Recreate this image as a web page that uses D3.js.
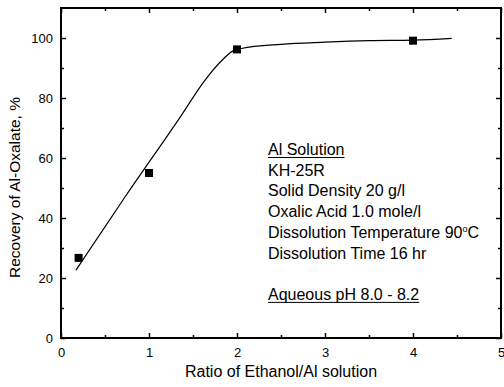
<!DOCTYPE html>
<html>
<head>
<meta charset="utf-8">
<script src="https://cdn.jsdelivr.net/npm/d3@7"></script>
<style>
    body { margin: 0; background: #fff; }
    svg text { font-family: "Liberation Sans", Arial, sans-serif; fill: #000; }
</style>
</head>
<body>
<div id="graph"></div>
<script>
!(function(){
    "use strict"

    var width = 504;
    var height = 387;

    // measured points
    var ratio = [0.2, 1, 2, 4];
    var recovery = [26.7, 55, 96.2, 99.1];

    // hand drawn trend line
    var fitRatio = [0.17, 0.75, 1.37, 1.62, 1.81, 1.96, 2.05, 2.5, 3.0, 3.5, 4.0, 4.44];
    var fitRecovery = [22.6, 48, 74.3, 85.3, 92.0, 95.8, 96.5, 97.9, 98.6, 99.1, 99.3, 99.9];

    var xTicks = [0, 1, 2, 3, 4, 5];
    var xMinor = [0.5, 1.5, 2.5, 3.5, 4.5];
    var yTicks = [0, 20, 40, 60, 80, 100];
    var yMinor = [10, 30, 50, 70, 90];

    var notes = [
        {text: "Al Solution", underline: true},
        {text: "KH-25R"},
        {text: "Solid Density 20 g/l"},
        {text: "Oxalic Acid 1.0 mole/l"},
        {text: "Dissolution Temperature 90", sup: "o", tail: "C"},
        {text: "Dissolution Time 16 hr"},
        {text: ""},
        {text: "Aqueous pH 8.0 - 8.2", underline: true}
    ];

    var plot = {left: 61, right: 501, top: 8, bottom: 338};

    var x = d3.scaleLinear().domain([0, 5]).range([plot.left, plot.right]);
    var y = d3.scaleLinear().domain([0, 110]).range([plot.bottom, plot.top]);

    var svg = d3.select('#graph')
        .append('svg')
        .attr("width", width)
        .attr("height", height);

    svg.append("rect")
        .attr("width", width).attr("height", height)
        .attr("fill", "#fff");

    function styleAxis(g) {
        g.select(".domain").remove();
        g.selectAll(".tick line").attr("stroke", "#000").attr("stroke-width", 1.5);
        g.selectAll(".tick text").attr("font-size", "13px").attr("font-family", null);
    }

    // bottom + left with labels, ticks pointing inward
    svg.append("g")
        .attr("transform", "translate(0," + plot.bottom + ")")
        .call(d3.axisBottom(x).tickValues(xTicks).tickFormat(d3.format("d")).tickSize(-5).tickPadding(10))
        .call(styleAxis);
    svg.append("g")
        .attr("transform", "translate(0," + plot.bottom + ")")
        .call(d3.axisBottom(x).tickValues(xMinor).tickFormat("").tickSize(-3))
        .call(styleAxis);

    svg.append("g")
        .attr("transform", "translate(" + plot.left + ",0)")
        .call(d3.axisLeft(y).tickValues(yTicks).tickFormat(d3.format("d")).tickSize(-5).tickPadding(8))
        .call(styleAxis);
    svg.append("g")
        .attr("transform", "translate(" + plot.left + ",0)")
        .call(d3.axisLeft(y).tickValues(yMinor).tickFormat("").tickSize(-3))
        .call(styleAxis);

    // mirrored top + right, no labels
    svg.append("g")
        .attr("transform", "translate(0," + plot.top + ")")
        .call(d3.axisTop(x).tickValues(xTicks).tickFormat("").tickSize(-5))
        .call(styleAxis);
    svg.append("g")
        .attr("transform", "translate(0," + plot.top + ")")
        .call(d3.axisTop(x).tickValues(xMinor).tickFormat("").tickSize(-3))
        .call(styleAxis);
    svg.append("g")
        .attr("transform", "translate(" + plot.right + ",0)")
        .call(d3.axisRight(y).tickValues(yTicks).tickFormat("").tickSize(-5))
        .call(styleAxis);
    svg.append("g")
        .attr("transform", "translate(" + plot.right + ",0)")
        .call(d3.axisRight(y).tickValues(yMinor).tickFormat("").tickSize(-3))
        .call(styleAxis);

    // frame
    svg.append("rect")
        .attr("x", plot.left).attr("y", plot.top)
        .attr("width", plot.right - plot.left)
        .attr("height", plot.bottom - plot.top)
        .attr("fill", "none")
        .attr("stroke", "#000")
        .attr("stroke-width", 2);

    // trend line
    var fit = d3.zip(fitRatio, fitRecovery);
    var line = d3.line()
        .x(function(d){ return x(d[0]); })
        .y(function(d){ return y(d[1]); })
        .curve(d3.curveMonotoneX);

    svg.append("path")
        .datum(fit)
        .attr("d", line)
        .attr("fill", "none")
        .attr("stroke", "#000")
        .attr("stroke-width", 1.2);

    // square markers
    var sq = 8;
    svg.selectAll("rect.pt")
        .data(d3.zip(ratio, recovery))
        .enter().append("rect")
        .attr("class", "pt")
        .attr("x", function(d){ return x(d[0]) - sq / 2; })
        .attr("y", function(d){ return y(d[1]) - sq / 2; })
        .attr("width", sq).attr("height", sq)
        .attr("fill", "#000");

    // axis titles
    svg.append("text")
        .attr("x", (plot.left + plot.right) / 2)
        .attr("y", 377)
        .attr("text-anchor", "middle")
        .attr("font-size", "16px")
        .text("Ratio of Ethanol/Al solution");

    svg.append("text")
        .attr("transform", "translate(20,187.5) rotate(-90)")
        .attr("text-anchor", "middle")
        .attr("font-size", "15.5px")
        .text("Recovery of Al-Oxalate, %");

    // annotation block
    var noteX = 268, noteY = 155, lineGap = 20.7;
    notes.forEach(function(n, i) {
        if (!n.text) return;
        var t = svg.append("text")
            .attr("x", noteX)
            .attr("y", noteY + i * lineGap)
            .attr("font-size", "16px")
            .text(n.text);
        if (n.sup) {
            t.append("tspan").attr("dy", -6).attr("font-size", "9px").text(n.sup);
            t.append("tspan").attr("dy", 6).text(n.tail);
        }
        if (n.underline) {
            var w = t.node().getComputedTextLength();
            svg.append("line")
                .attr("x1", noteX).attr("x2", noteX + w)
                .attr("y1", noteY + i * lineGap + 2.5)
                .attr("y2", noteY + i * lineGap + 2.5)
                .attr("stroke", "#000")
                .attr("stroke-width", 1);
        }
    });

}());
</script>
</body>
</html>
